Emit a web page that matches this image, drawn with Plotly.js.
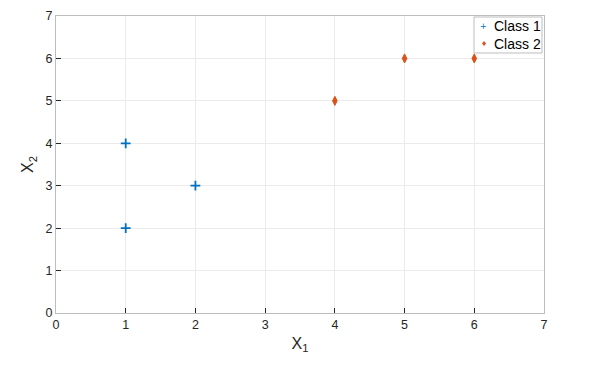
<!DOCTYPE html>
<html><head><meta charset="utf-8">
<script src="https://cdn.plot.ly/plotly-3.0.1.min.js"></script>
<style>body{margin:0;}#c{width:590px;height:370px;}</style>
</head><body><div id="c"></div>
<script>
const class1X = [1, 1, 2];
const class1Y = [4, 2, 3];
const class2X = [4, 5, 6];
const class2Y = [5, 6, 6];
const seriesNames = ['Class 1', 'Class 2'];
const tickVals = [0, 1, 2, 3, 4, 5, 6, 7];

const fontFam = 'Liberation Sans, Arial, sans-serif';
const blue = '#0072BD', red = '#D95319';
const axisCommon = {
  range: [0, 7], tickvals: tickVals, ticks: 'inside', ticklen: 5, tickcolor: '#262626',
  showgrid: true, gridcolor: '#ebebeb', gridwidth: 1,
  showline: true, linecolor: '#bdbdbd', linewidth: 1, mirror: true,
  zeroline: false, tickfont: {family: fontFam, size: 12.5, color: '#262626'}
};
const data = [
  {x: class1X, y: class1Y, mode: 'markers', type: 'scatter', name: seriesNames[0],
   marker: {symbol: 'cross-thin', size: 7, color: blue, line: {color: blue, width: 1.8}}},
  {x: class2X, y: class2Y, mode: 'markers', type: 'scatter', name: seriesNames[1],
   marker: {symbol: 'diamond-tall', size: 6.5, color: red, line: {color: red, width: 1}}}
];
// compact legend drawn like the reference's (box + small symbols + labels)
const legBox = {x0: 0.8566, x1: 0.9959, y0: 0.8754, y1: 0.9966};
const legRows = [0.965, 0.905];
const legSymbols = ['+', '\u2666'];
const legColors = [blue, red];
const annotations = [];
seriesNames.forEach((nm, i) => {
  annotations.push({xref: 'paper', yref: 'paper', x: 0.877, y: legRows[i], text: legSymbols[i],
    showarrow: false, xanchor: 'center', yanchor: 'middle',
    font: {family: 'DejaVu Sans', size: i === 0 ? 8 : 7, color: legColors[i]}});
  annotations.push({xref: 'paper', yref: 'paper', x: 0.8934, y: legRows[i], text: nm,
    showarrow: false, xanchor: 'left', yanchor: 'middle',
    font: {family: fontFam, size: 14, color: '#000'}});
});
const layout = {
  width: 590, height: 370,
  margin: {l: 56, r: 46, t: 16, b: 57},
  paper_bgcolor: '#ffffff', plot_bgcolor: '#ffffff',
  showlegend: false,
  shapes: [{type: 'rect', xref: 'paper', yref: 'paper', x0: legBox.x0, x1: legBox.x1,
    y0: legBox.y0, y1: legBox.y1, fillcolor: '#ffffff', line: {color: '#bdbdbd', width: 1}, layer: 'above'}],
  annotations: annotations,
  xaxis: Object.assign({}, axisCommon, {title: {text: 'X<sub>1</sub>', font: {family: fontFam, size: 16, color: '#262626'}, standoff: 6}}),
  yaxis: Object.assign({}, axisCommon, {title: {text: 'X<sub>2</sub>', font: {family: fontFam, size: 16, color: '#262626'}, standoff: 7}})
};
Plotly.newPlot('c', data, layout, {displayModeBar: false, staticPlot: true});
</script></body></html>
